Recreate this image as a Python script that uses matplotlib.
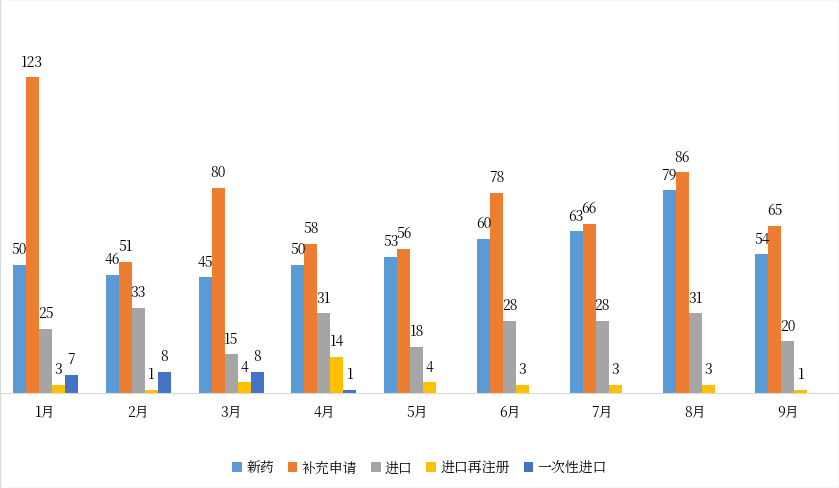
import numpy as np
import matplotlib
import matplotlib.pyplot as plt
from matplotlib import font_manager

# pick an installed CJK font
cjk = [f for f in font_manager.findSystemFonts() if "CJK" in f or "cjk" in f.lower()]
families = []
for f in cjk:
    font_manager.fontManager.addfont(f)
    families.append(font_manager.FontProperties(fname=f).get_name())
fam = [n for n in families if "SC" in n] or families or ["DejaVu Sans"]
matplotlib.rc('font', family=[fam[0], "DejaVu Sans"], size=10)

months = ["1月", "2月", "3月", "4月", "5月", "6月", "7月", "8月", "9月"]
xinyao = [50, 46, 45, 50, 53, 60, 63, 79, 54]
buchong = [123, 51, 80, 58, 56, 78, 66, 86, 65]
jinkou = [25, 33, 15, 31, 18, 28, 28, 31, 20]
zaizhuce = [3, 1, 4, 14, 4, 3, 3, 3, 1]
yicixing = [7, 8, 8, 1, None, None, None, None, None]

series = [("新药", xinyao, "#5b9bd5"),
          ("补充申请", buchong, "#ed7d31"),
          ("进口", jinkou, "#a5a5a5"),
          ("进口再注册", zaizhuce, "#ffc000"),
          ("一次性进口", yicixing, "#4472c4")]

fig = plt.figure(figsize=(8.39, 4.89), dpi=100)
fig.patches.append(plt.Rectangle((0, 0), 1, 1, transform=fig.transFigure,
                                 fill=False, edgecolor="#d9d9d9", lw=1))
ax = fig.add_axes([0.0, 0.195, 1.0, 0.765])
x = np.arange(len(months))
w = 0.14
for i, (name, vals, c) in enumerate(series):
    v = np.array([np.nan if a is None else a for a in vals], dtype=float)
    pos = x + (i - 2) * w
    ax.bar(pos, np.nan_to_num(v), w, color=c, label=name)
    for p, val in zip(pos, v):
        if not np.isnan(val):
            ax.text(p, val + 3, "%d" % val, ha="center", va="bottom", fontsize=10)

ax.set_xlim(-0.49, 8.55)
ax.set_ylim(0, 146)
ax.set_yticks([])
ax.set_xticks(x)
ax.set_xticklabels(months)
ax.tick_params(axis="x", length=0, pad=8)
for s in ["top", "left", "right"]:
    ax.spines[s].set_visible(False)
ax.spines["bottom"].set_color("#d9d9d9")
fig.legend(loc="lower center", ncol=5, frameon=False, bbox_to_anchor=(0.5, 0.0),
           handlelength=0.7, handleheight=0.7, handletextpad=0.3, columnspacing=1.0)
fig.savefig("out.png", dpi=100)
